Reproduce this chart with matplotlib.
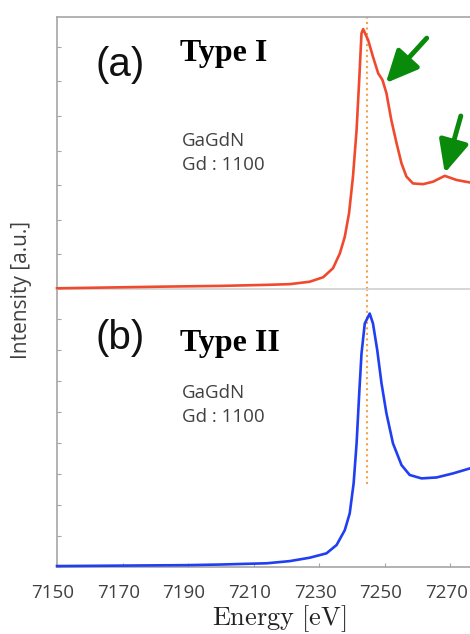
import matplotlib
matplotlib.use("Agg")
import matplotlib.pyplot as plt
from matplotlib.transforms import ScaledTranslation

plt.rcParams['mathtext.fontset'] = 'cm'

# ---- data ----
energy_a = [7150, 7183.5, 7200, 7214, 7221.0, 7227.1, 7231.2, 7234.2, 7236.3, 7237.8,
            7239.1, 7240.3, 7241.4, 7242.2, 7242.9, 7243.4, 7244.9, 7246.4, 7248.0,
            7249.3, 7250.5, 7252.0, 7253.6, 7255.1, 7256.6, 7258.6, 7261.7, 7264.7,
            7268.3, 7271.9, 7275.9]
inten_a = [0.02, 0.07, 0.09, 0.12, 0.14, 0.21, 0.34, 0.60, 1.03, 1.51,
           2.19, 3.25, 4.60, 6.04, 7.39, 7.51, 7.20, 6.71, 6.23,
           6.04, 5.66, 4.88, 4.21, 3.63, 3.25, 3.05, 3.03, 3.10,
           3.27, 3.15, 3.08]

energy_b = [7150, 7189.6, 7200, 7214, 7221.0, 7227.1, 7232.2, 7235.3, 7237.8, 7239.3,
            7240.5, 7241.4, 7242.2, 7242.9, 7243.9, 7245.4, 7246.4, 7247.7, 7249.0,
            7250.5, 7252.5, 7255.1, 7257.6, 7261.2, 7265.8, 7270.8, 7275.9]
inten_b = [0.03, 0.06, 0.08, 0.12, 0.19, 0.30, 0.44, 0.71, 1.19, 1.73,
           2.70, 3.99, 5.60, 6.89, 7.86, 8.18, 7.86, 7.00, 5.93,
           4.96, 3.99, 3.29, 2.97, 2.86, 2.89, 3.02, 3.18]

xticks = [7150, 7170, 7190, 7210, 7230, 7250, 7270]
ref_energy = 7244.5
panel_labels = ["(a)", "(b)"]
type_labels = ["Type I", "Type II"]
sample_text = "GaGdN\nGd : 1100"

W, H = 470, 634
fig = plt.figure(figsize=(W / 100, H / 100), dpi=100)

def fx(px):
    return px / W

def fy(py):
    return 1 - py / H

ax_a = fig.add_axes([fx(57), fy(289), fx(470 - 57), (289 - 17) / H])
ax_b = fig.add_axes([fx(57), fy(567), fx(470 - 57), (567 - 290) / H])

spine_c = '#a6a6a6'
tick_c = '#404040'
sans = ['Open Sans', 'DejaVu Sans']

for ax in (ax_a, ax_b):
    ax.set_xlim(7150, 7276)
    ax.spines['right'].set_visible(False)
    for s in ('left', 'top', 'bottom'):
        ax.spines[s].set_color(spine_c)
        ax.spines[s].set_linewidth(1.2)
    ax.tick_params(axis='y', direction='in', length=3, color=spine_c, labelleft=False)
    ax.set_xticks(xticks)

ax_a.set_ylim(0, 7.86)
ax_a.set_yticks(range(0, 8))
ax_a.tick_params(axis='x', bottom=False, labelbottom=False)
ax_a.spines['bottom'].set_color('#d0d0d0')

ax_b.set_ylim(0, 8.94)
ax_b.set_yticks(range(0, 9))
ax_b.spines['top'].set_visible(False)
ax_b.tick_params(axis='x', direction='in', length=3, color=spine_c,
                 labelsize=13.5, labelcolor=tick_c, pad=12)
shift = ScaledTranslation(-4 / 100, 0, fig.dpi_scale_trans)
for lab in ax_b.get_xticklabels():
    lab.set_family(sans)
    lab.set_transform(lab.get_transform() + shift)

ax_a.plot(energy_a, inten_a, color='#f04a2e', lw=1.9, clip_on=False, zorder=3)
ax_b.plot(energy_b, inten_b, color='#1f3ff0', lw=1.9, clip_on=False, zorder=3)

dot_c = '#f7a04a'
ax_a.axvline(ref_energy, color=dot_c, ls=':', lw=1.5, zorder=2)
ax_b.vlines(ref_energy, 2.68, 8.94, color=dot_c, ls=':', lw=1.5, zorder=2)

arrow_kw = dict(arrowstyle='-|>,head_width=0.65,head_length=1.4', color='#0a8a0a',
                lw=3.5, shrinkA=0, shrinkB=0, mutation_scale=14)
ax_a.annotate('', xy=(7250.3, 5.95), xytext=(7262.8, 7.25), arrowprops=arrow_kw,
              annotation_clip=False)
ax_a.annotate('', xy=(7268.3, 3.35), xytext=(7273.2, 5.0), arrowprops=arrow_kw,
              annotation_clip=False)

# texts
for lab, ycen in zip(panel_labels, [65, 338]):
    fig.text(fx(120), fy(ycen), lab, family=['Liberation Sans', 'DejaVu Sans'],
             fontsize=29, ha='center', va='center', color='#111111')
for lab, ycen in zip(type_labels, [53, 343]):
    fig.text(fx(180), fy(ycen), lab, family=['Liberation Serif', 'DejaVu Serif'],
             fontweight='bold', fontsize=23, ha='left', va='center', color='black')
for ycen in [153, 405]:
    fig.text(fx(182), fy(ycen), sample_text, family=sans, fontsize=13.5,
             ha='left', va='center', color='#404040', linespacing=1.4)

fig.text(fx(22), fy(290), 'Intensity [a.u.]', family=sans, fontsize=15,
         rotation=90, ha='center', va='center', color='#404040')
fig.text(fx(279), fy(619), r'$\mathrm{Energy\ [eV]}$', fontsize=19,
         ha='center', va='center', color='#222222')

fig.savefig('out.png', dpi=100)
